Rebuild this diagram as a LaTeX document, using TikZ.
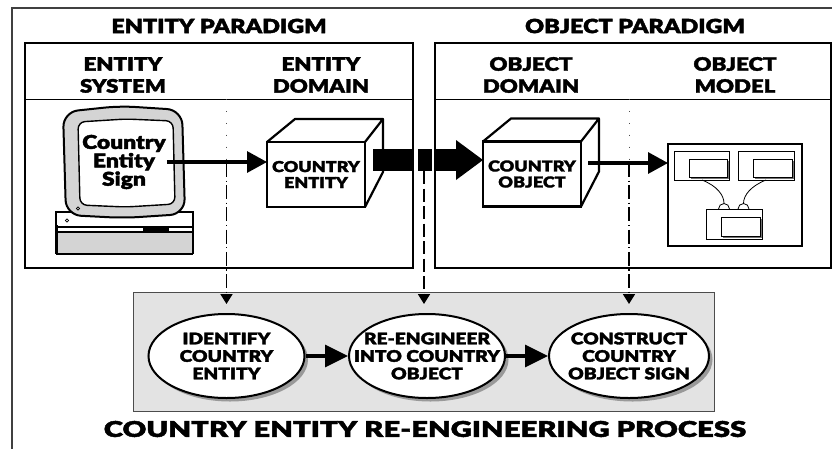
\documentclass[tikz,border=0pt]{standalone}
\usepackage{fontspec}
\newfontfamily\heavysans{Lato Black}[FakeStretch=1.2,FakeBold=2]
\newfontfamily\widesans{Lato Black}[FakeStretch=1.35,FakeBold=2]
\usetikzlibrary{arrows.meta,shapes.geometric,shadows}

% heavy sans at a given size / leading
\newcommand\hs[2]{\heavysans\fontsize{#1}{#2}\selectfont}

\begin{document}
\begin{tikzpicture}[x=1pt,y=-1pt,
  panel/.style={draw=black,line width=1.2pt,inner sep=0pt,outer sep=0pt,anchor=north west},
  paratitle/.style={font=\hs{19.5}{20}},
  colhead/.style={font=\hs{18.5}{22},align=center},
  cube/.style={draw=black,line width=2.2pt,fill=white,inner sep=0pt,outer sep=0pt,
    minimum width=98pt,minimum height=65pt,align=center,font=\hs{15}{16}},
  cubeedge/.style={line width=2.2pt,line join=round},
  flow/.style={line width=3.2pt,-{Triangle[length=20pt,width=21pt]}},
  dotline/.style={draw=black!70,line width=0.9pt,dash pattern=on 0.9pt off 11pt},
  dashdotline/.style={line width=1.7pt,dash pattern=on 14pt off 3.5pt on 1.2pt off 3.5pt,
    -{Triangle[length=10pt,width=12pt]}},
  dashline/.style={line width=1.7pt,dash pattern=on 13pt off 4.5pt,
    -{Triangle[length=10pt,width=12pt]}},
  stage/.style={ellipse,draw=black,line width=2pt,fill=white,inner sep=0pt,
    minimum width=156pt,minimum height=84pt,
    drop shadow={shadow xshift=3.5pt,shadow yshift=-3.5pt,fill=black!40,opacity=1}},
  stagetext/.style={align=center,font=\hs{16}{17.5}},
  stageflow/.style={line width=3.2pt,-{Triangle[length=23pt,width=22pt]}},
  cls/.style={draw=black,line width=0.9pt,inner sep=0pt,outer sep=0pt,anchor=north west},
  clsin/.style={cls,fill=white,
    drop shadow={shadow xshift=1.6pt,shadow yshift=-1.6pt,fill=black!55,opacity=1}},
  monline/.style={line width=2pt,line join=round}
]
\useasboundingbox (0,0) rectangle (832,448);

% outer frame (runs off the right and bottom edges)
\draw[draw=black!75,line width=1.3pt] (12,460) -- (12,8) -- (845,8);

% the two paradigm panels
\node[panel,minimum width=388pt,minimum height=225pt] (ent) at (25,43) {};
\node[panel,minimum width=396pt,minimum height=225pt] (obj) at (435,43) {};
\draw[line width=1pt] (ent.west |- 0,99) -- (ent.east |- 0,99);
\draw[line width=1pt] (obj.west |- 0,99) -- (obj.east |- 0,99);

\node[paratitle] (entp) at (219,26) {ENTITY PARADIGM};
\node[paratitle] (objp) at (635,26) {OBJECT PARADIGM};

\node[colhead] (hsys) at (123,75) {ENTITY\\SYSTEM};
\node[colhead] (hdom) at (321,75) {ENTITY\\DOMAIN};
\node[colhead] (hodo) at (531,75) {OBJECT\\DOMAIN};
\node[colhead] (hmod) at (735,75) {OBJECT\\MODEL};

% computer: base unit
\fill[black!17] (56,232) rectangle (193,254);
\draw[line width=1.3pt,fill=white] (56,212) rectangle (193,227);
\draw[line width=1.3pt] (56,232) -- (193,232) (56,254) -- (193,254) (193,212) -- (193,254);
\fill (143,227) rectangle (169,232.5);
\draw[line width=3pt] (56,225) -- (56,254);
\draw[line width=0.8pt] (67,220.5) circle (1.6);
% computer: monitor bezel and screen
\draw[monline,fill=black!17,rounded corners=15pt]
  (63,112) -- (120,106) -- (182,110) -- (185,214) -- (124,218) -- (66,215) -- cycle;
\draw[line width=1.4pt,fill=white,rounded corners=7pt]
  (78,122) -- (126,119) -- (173,121) -- (175,204) -- (126,207) -- (80,205) -- cycle;
\draw[line width=0.8pt] (78,208.5) circle (1.6);
\node[font=\hs{19}{15},align=center,inner sep=1pt] (sign) at (124,162) {Country\\Entity\\Sign};

% entity cube
\node[cube] (ce) at (316,174.5) {COUNTRY\\ENTITY};
\draw[cubeedge] (ce.north west) -- ++(28,-23) -- ++(88,0) -- (ce.north east);
\draw[cubeedge] (ce.north east) ++(18,-23) -- ++(0,53) -- (ce.south east);

% object cube
\node[cube] (co) at (532,174) {COUNTRY\\OBJECT};
\draw[cubeedge] (co.north west) -- ++(28,-23) -- ++(88,0) -- (co.north east);
\draw[cubeedge] (co.north east) ++(18,-23) -- ++(0,53) -- (co.south east);

% object model
\node[panel,line width=1.1pt,minimum width=134pt,minimum height=102pt] (model) at (668,144) {};
\node[cls,minimum width=55pt,minimum height=29pt] (c1) at (674.5,151) {};
\node[clsin,minimum width=38pt,minimum height=18pt] (c1i) at (689.5,159) {};
\node[cls,minimum width=56pt,minimum height=29pt] (c2) at (738,151) {};
\node[clsin,minimum width=39pt,minimum height=18pt] (c2i) at (753,159) {};
\node[cls,minimum width=56pt,minimum height=30pt] (c3) at (706,209) {};
\node[clsin,minimum width=39pt,minimum height=19pt] (c3i) at (721.5,217) {};
\draw[line width=0.8pt] (702,180) .. controls (717,186) and (724,195) .. (724,203.5);
\draw[line width=0.8pt] (766,180) .. controls (751,186) and (743.5,195) .. (743.5,203.5);
\draw[line width=0.8pt] (718.5,209) arc (180:360:5.5);
\draw[line width=0.8pt] (738,209) arc (180:360:5.5);

% flows across the top row
\draw[flow] (sign.east) -- (sign.east -| ce.west);
\draw[flow] ([xshift=7pt]co.east |- 0,163) -- (model.west |- 0,163);
\fill (373,149) rectangle (457,171);
\fill (456,140) -- (co.west |- 0,160) -- (456,180) -- cycle;
\fill[white] (413.8,145) rectangle (417.6,175);
\fill[white] (431.8,145) rectangle (434.4,175);

% process panel
\node[panel,draw=black!70,line width=1pt,fill=black!11,minimum width=581pt,minimum height=119pt] (proc) at (133,292) {};

\node[stage] (e1) at (226.5,356) {};
\node[stage] (e2) at (427,356) {};
\node[stage,minimum width=160pt] (e3) at (629,356) {};
\node[stagetext] (t1) at (e1) {IDENTIFY\\COUNTRY\\ENTITY};
\node[stagetext] (t2) at (e2) {RE-ENGINEER\\INTO COUNTRY\\OBJECT};
\node[stagetext] (t3) at (e3) {CONSTRUCT\\COUNTRY\\OBJECT SIGN};
\draw[stageflow] (e1.east) -- (e2.west);
\draw[stageflow] (e2.east) -- (e3.west);

% guide lines from the columns down to the stages
\coordinate (g1) at (226.5,99);
\coordinate (g1m) at (226.5,163);
\coordinate (g2) at (424,171);
\coordinate (g3) at (629,99);
\coordinate (g3m) at (629,163);
\draw[dotline] (g1) -- (g1m);
\draw[dotline] (g3) -- (g3m);
\draw[dashdotline,shorten >=9pt] (g1m) -- (e1.north);
\draw[dashline,shorten >=9pt] (g2) -- (g2 |- e2.north);
\draw[dashdotline,shorten >=9pt] (g3m) -- (e3.north);

\node[font=\widesans\fontsize{21.7}{22}\selectfont] (ttl) at (425,429) {COUNTRY ENTITY RE-ENGINEERING PROCESS};
\end{tikzpicture}
\end{document}
